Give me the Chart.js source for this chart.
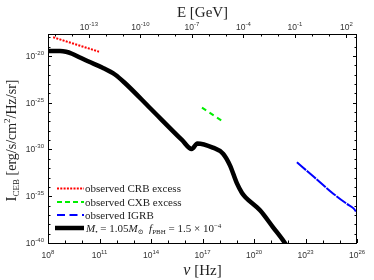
<!DOCTYPE html>
<html><head><meta charset="utf-8">
<script src="https://cdn.jsdelivr.net/npm/chart.js@4/dist/chart.umd.min.js"></script>
<style>html,body{margin:0;padding:0;background:#fff}#wrap{width:374px;height:280px}</style>
</head><body><div id="wrap"><canvas id="c" width="374" height="280"></canvas></div>
<script>
// ---- data ----
const pbhNu = [1e8, 5.01e8, 1.12e9, 2.51e9, 7.24e9, 2.14e10, 1.41e11, 7.94e11, 3.02e12, 8.71e13, 6.31e15, 2.34e16, 5.01e16, 3.98e17, 1.58e18, 3.98e18, 1e19, 2.0e19, 3.16e19, 2.24e20, 1.26e21, 6.31e21, 7.94e21];
const pbhI  = [3.39e-20, 3.39e-20, 2.82e-20, 1.74e-20, 6.92e-21, 2.69e-21, 5.89e-22, 1.05e-22, 1.29e-23, 2.75e-26, 1.05e-29, 1.12e-30, 4.47e-30, 1.58e-30, 3.55e-31, 2.0e-32, 2.51e-34, 2.24e-35, 7.94e-36, 3.16e-37, 5.01e-39, 1e-40, 5.01e-41];
const crbNu = [2e8, 9.33e10];
const crbI  = [1e-18, 2.88e-20];
const cxbNu = [9.33e16, 1.55e18];
const cxbI  = [2.95e-26, 1e-27];
const igrbNu = [3.16e22, 3.16e23, 3.98e24, 2.51e25, 6.31e25, 1e26];
const igrbI  = [4.27e-32, 1.12e-33, 2.0e-35, 1.58e-36, 5.01e-37, 1.58e-37];
const xTickExp = [8, 11, 14, 17, 20, 23, 26];
const yTickExp = [-40, -35, -30, -25, -20];
const eTickExp = [-13, -10, -7, -4, -1, 2];
const legendLabels = ['observed CRB excess', 'observed CXB excess', 'observed IGRB'];
const H_GEV = 4.135667e-24; // Planck constant in GeV*s

const pts = (xs, ys) => xs.map((x, i) => ({x: x, y: ys[i]}));

const SERIF = '"Liberation Serif", "DejaVu Serif", serif';
const SANS = '"Liberation Sans", Arial, sans-serif';

function drawPow(ctx, exp, x, y, align) {
  ctx.font = '8.5px ' + SANS;
  const wb = ctx.measureText('10').width;
  ctx.font = '6px ' + SANS;
  const we = ctx.measureText(exp).width;
  const tot = wb + we;
  let s = x;
  if (align === 'center') s = x - tot / 2; else if (align === 'right') s = x - tot;
  ctx.textAlign = 'left';
  ctx.textBaseline = 'alphabetic';
  ctx.font = '8.5px ' + SANS;
  ctx.fillText('10', s, y);
  ctx.font = '6px ' + SANS;
  ctx.fillText(exp, s + wb, y - 4);
}

function drawPieces(ctx, pieces, x, y) {
  let cx = x;
  for (const p of pieces) {
    ctx.font = p[1];
    ctx.fillText(p[0], cx, y + (p[2] || 0));
    cx += ctx.measureText(p[0]).width;
  }
  return cx - x;
}
function piecesWidth(ctx, pieces) {
  let w = 0;
  for (const p of pieces) { ctx.font = p[1]; w += ctx.measureText(p[0]).width; }
  return w;
}

const decor = {
  id: 'decor',
  afterDatasetsDraw(chart) {
    const ctx = chart.ctx;
    const a = chart.chartArea;
    const sx = chart.scales.x, sy = chart.scales.y, se = chart.scales.x2;
    ctx.save();
    ctx.strokeStyle = '#000';
    ctx.lineWidth = 1;
    ctx.setLineDash([]);
    ctx.beginPath();
    for (let e = 8; e <= 26; e++) {
      const px = Math.round(sx.getPixelForValue(Math.pow(10, e))) + 0.5;
      const len = (xTickExp.indexOf(e) >= 0) ? 4 : 2.5;
      ctx.moveTo(px, a.bottom); ctx.lineTo(px, a.bottom - len);
    }
    for (let e = -40; e <= -18; e++) {
      const py = Math.round(sy.getPixelForValue(Math.pow(10, e))) + 0.5;
      const len = (yTickExp.indexOf(e) >= 0) ? 4 : 2.5;
      ctx.moveTo(a.left, py); ctx.lineTo(a.left + len, py);
      ctx.moveTo(a.right, py); ctx.lineTo(a.right - len, py);
    }
    for (let e = -15; e <= 2; e++) {
      const px = Math.round(se.getPixelForValue(Math.pow(10, e))) + 0.5;
      const len = (eTickExp.indexOf(e) >= 0) ? 4 : 2.5;
      ctx.moveTo(px, a.top); ctx.lineTo(px, a.top + len);
    }
    ctx.stroke();
    ctx.strokeRect(Math.round(a.left) + 0.5, Math.round(a.top) + 0.5, Math.round(a.right - a.left) - 1, Math.round(a.bottom - a.top));
    ctx.fillStyle = '#333';
    for (const e of xTickExp) drawPow(ctx, String(e), sx.getPixelForValue(Math.pow(10, e)), a.bottom + 15, 'center');
    for (const e of eTickExp) drawPow(ctx, String(e), se.getPixelForValue(Math.pow(10, e)), a.top - 4, 'center');
    for (const e of yTickExp) drawPow(ctx, String(e), a.left - 4, sy.getPixelForValue(Math.pow(10, e)) + 3, 'right');
    ctx.fillStyle = '#222';
    ctx.textBaseline = 'alphabetic';
    ctx.textAlign = 'left';
    const cx = (a.left + a.right) / 2;
    let tp = [['E [GeV]', '15px ' + SERIF, 0]];
    drawPieces(ctx, tp, cx - piecesWidth(ctx, tp) / 2, 17);
    tp = [['\u03bd', 'italic 16px ' + SERIF, 0], [' [Hz]', '15px ' + SERIF, 0]];
    drawPieces(ctx, tp, cx - piecesWidth(ctx, tp) / 2, 275);
    ctx.save();
    ctx.translate(16, (a.top + a.bottom) / 2 + 2);
    ctx.rotate(-Math.PI / 2);
    tp = [['I', '15px ' + SERIF, 0], ['CEB', '9px ' + SERIF, 3], [' [erg/s/cm', '14px ' + SERIF, 0], ['2', '9px ' + SERIF, -6], ['/Hz/sr]', '14px ' + SERIF, 0]];
    drawPieces(ctx, tp, -piecesWidth(ctx, tp) / 2, 0);
    ctx.restore();
    const rows = [188.5, 202, 215, 228];
    const styles = [
      {c: '#ff0000', w: 2, d: [2, 1.3]},
      {c: '#00ee00', w: 2, d: [5, 3]},
      {c: '#0000ff', w: 2, d: [8, 4.5]},
      {c: '#000000', w: 4.5, d: []}
    ];
    for (let i = 0; i < 4; i++) {
      ctx.strokeStyle = styles[i].c; ctx.lineWidth = styles[i].w; ctx.setLineDash(styles[i].d);
      ctx.beginPath(); ctx.moveTo(i === 3 ? 55 : 57, rows[i]); ctx.lineTo(84, rows[i]); ctx.stroke();
    }
    ctx.setLineDash([]);
    ctx.fillStyle = '#222';
    for (let i = 0; i < 3; i++) {
      ctx.font = '11px ' + SERIF;
      ctx.fillText(legendLabels[i], 85, rows[i] + 3.5);
    }
    const F = '11px ' + SERIF, FI = 'italic 11px ' + SERIF, FS = '7px ' + SERIF;
    drawPieces(ctx, [
      ['M', FI, 0], ['\u2022', FS, 2], [' = 1.05', F, 0], ['M', FI, 0], ['\u2299', FS, 2],
      ['  ', F, 0], ['f', FI, 0], ['PBH', FS, 2], [' = 1.5 \u00d7 10', F, 0], ['\u22124', FS, -4]
    ], 86, rows[3] + 3.5);
    ctx.restore();
  }
};

new Chart(document.getElementById('c'), {
  type: 'line',
  data: {
    datasets: [
      {data: pts(crbNu, crbI), borderColor: '#ff0000', borderWidth: 2, borderDash: [2, 1.3], pointRadius: 0, fill: false},
      {data: pts(cxbNu, cxbI), borderColor: '#00ee00', borderWidth: 2, borderDash: [5, 4], pointRadius: 0, fill: false},
      {data: pts(igrbNu, igrbI), borderColor: '#0000ff', borderWidth: 2, borderDash: [12, 1], pointRadius: 0, fill: false, cubicInterpolationMode: 'monotone'},
      {data: pts(pbhNu, pbhI), borderColor: '#000000', borderWidth: 4.5, pointRadius: 0, fill: false, cubicInterpolationMode: 'monotone', borderJoinStyle: 'round'}
    ]
  },
  options: {
    responsive: false,
    animation: false,
    events: [],
    layout: {padding: {left: 0, right: 17, top: 0, bottom: 0}},
    plugins: {legend: {display: false}, tooltip: {enabled: false}},
    scales: {
      x: {type: 'logarithmic', position: 'bottom', min: 1e8, max: 1e26,
          ticks: {display: false}, grid: {display: false}, border: {display: false},
          afterFit: s => { s.height = 37; }},
      x2: {type: 'logarithmic', position: 'top', min: 1e8 * H_GEV, max: 1e26 * H_GEV,
          ticks: {display: false}, grid: {display: false}, border: {display: false},
          afterFit: s => { s.height = 34; }},
      y: {type: 'logarithmic', position: 'left', min: 1e-40, max: 2.24e-18,
          ticks: {display: false}, grid: {display: false}, border: {display: false},
          afterFit: s => { s.width = 48; }}
    }
  },
  plugins: [decor]
});
</script>
</body></html>
